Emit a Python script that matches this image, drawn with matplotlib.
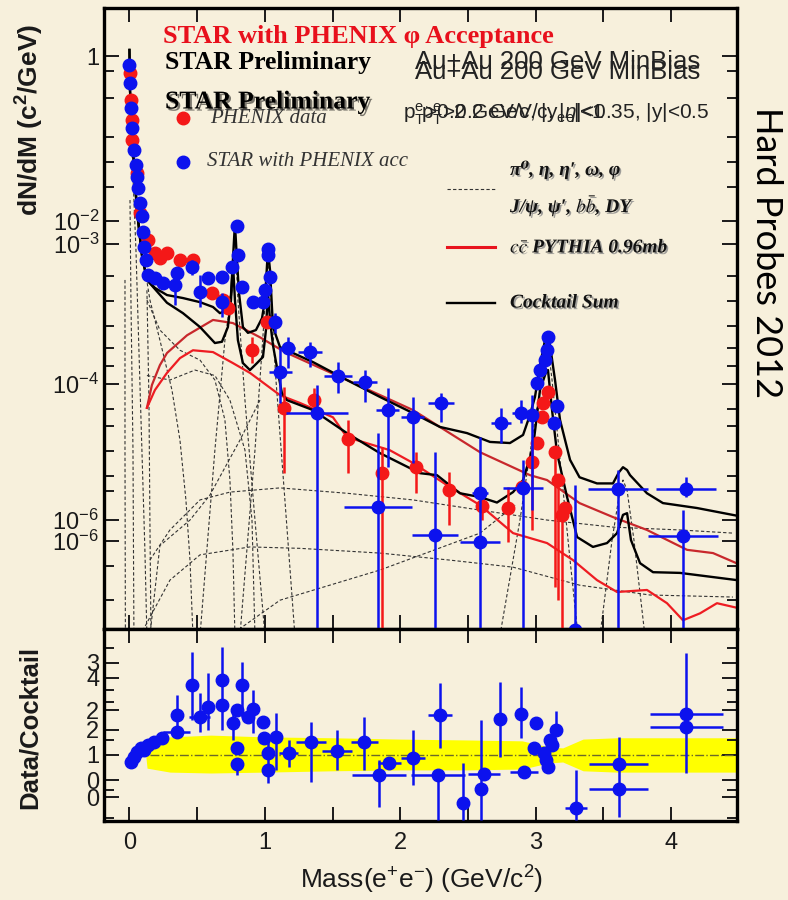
import numpy as np
import matplotlib
matplotlib.use("Agg")
import matplotlib.pyplot as plt
import matplotlib.patheffects as pe
from matplotlib.ticker import FixedLocator, FixedFormatter, NullFormatter

BG = "#f7f0dc"
BLUE = "#0c12ee"
RED = "#f41818"
SERIF = ["Liberation Serif", "DejaVu Serif"]

plt.rcParams["font.family"] = ["Liberation Sans", "DejaVu Sans"]
plt.rcParams["mathtext.fontset"] = "custom"
plt.rcParams["mathtext.rm"] = "Liberation Sans"
plt.rcParams["mathtext.it"] = "Liberation Sans:italic"
plt.rcParams["mathtext.bf"] = "Liberation Sans:bold"

# ---- main panel data: STAR with PHENIX acceptance (blue) ----
blue_mass = [0.0, 0.005, 0.01, 0.018, 0.03, 0.045, 0.055, 0.063, 0.08, 0.09, 0.10, 0.107,
             0.125, 0.137, 0.188, 0.247, 0.351, 0.580, 0.683, 0.757, 0.794, 0.801, 0.831,
             0.912, 0.986, 1.001, 1.023, 1.023, 1.038, 3.010, 3.032, 3.069, 3.084, 3.091,
             3.136, 3.158]
blue_val = [0.78, 0.40, 0.163, 0.079, 0.036, 0.021, 0.0134, 0.0091, 0.0053, 0.0032, 0.0018, 1.07e-3,
            6.6e-4, 3.8e-4, 3.4e-4, 2.9e-4, 4.1e-4, 3.4e-4, 3.56e-4, 5.1e-4, 2.3e-3, 7.9e-4, 2.46e-4,
            1.44e-4, 1.44e-4, 2.2e-4, 1.0e-3, 7.9e-4, 3.56e-4, 7.6e-6, 1.22e-5, 1.75e-5, 2.5e-5, 4.0e-5,
            1.78e-6, 3.3e-6]

blue_err_mass = [0.336, 0.462, 0.521, 0.683, 1.075, 1.171, 1.333, 1.112, 1.385, 1.540, 1.739, 1.906,
                 2.094, 2.301, 1.835, 2.256, 2.589, 2.589, 2.744, 2.892, 2.973, 2.907, 3.608, 4.110,
                 4.088, 3.290]
blue_err_val = [2.65e-4, 5.1e-4, 2.07e-4, 1.44e-4, 7.0e-5, 2.7e-5, 2.35e-5, 1.14e-5, 2.6e-6, 1.0e-5, 7.9e-6, 2.86e-6,
                2.2e-6, 3.7e-6, 8.6e-8, 3.1e-8, 1.4e-7, 2.4e-8, 1.78e-6, 2.57e-6, 2.4e-6, 1.7e-7, 1.63e-7, 1.63e-7,
                3.0e-8, 1.0e-9]
blue_err_lo = [1.29e-4, 3.8e-4, 1.2e-4, 8.3e-5, 4.7e-5, 1.31e-5, 1.36e-5, 3.7e-6, 5e-10, 5.3e-6, 3.8e-6, 3.6e-7,
               4.2e-7, 1.85e-6, 5e-10, 5e-10, 5e-10, 2.4e-8, 8.65e-7, 1.8e-6, 7.6e-8, 5e-10, 5e-10, 1.22e-7,
               5e-10, 1.0e-9]
blue_err_hi = [4.1e-4, 6.6e-4, 3.8e-4, 2.0e-4, 9.6e-5, 4.0e-5, 3.4e-5, 2.8e-5, 7.1e-6, 1.63e-5, 1.22e-5, 6.4e-6,
               4.6e-6, 5.3e-6, 1.24e-6, 6.2e-7, 1.07e-6, 2.4e-8, 3.1e-6, 4.1e-6, 4.9e-6, 4.7e-7, 3.25e-7, 2.5e-7,
               7.6e-8, 1.88e-7]
blue_err_xerr = [0.04, 0, 0, 0, 0, 0.05, 0.09, 0.085, 0.23, 0.10, 0.09, 0.085,
                 0.085, 0.095, 0.25, 0.17, 0.06, 0.15, 0.075, 0.065, 0, 0.15, 0.22, 0.22,
                 0.26, 0]

# ---- main panel data: PHENIX (red) ----
red_mass = [0.004, 0.008, 0.018, 0.022, 0.055, 0.078, 0.137, 0.188, 0.225, 0.277, 0.373, 0.469,
            0.609, 0.691, 0.727, 1.016, 2.899, 3.010, 3.047, 3.055, 3.091, 3.217]
red_val = [0.58, 0.218, 0.106, 0.051, 0.0154, 3.6e-3, 1.36e-3, 8.5e-4, 7.0e-4, 8.5e-4, 6.6e-4, 6.6e-4,
           2.0e-4, 1.55e-4, 1.16e-4, 7.0e-5, 1.75e-7, 8.65e-7, 2.2e-6, 3.7e-6, 5.5e-6, 8.2e-8]

red_err_mass = [0.905, 1.141, 1.363, 1.613, 1.865, 2.116, 2.360, 2.604, 2.795, 2.973, 3.143, 3.165, 3.195]
red_err_val = [2.5e-5, 3.1e-6, 4.1e-6, 1.0e-6, 2.9e-7, 3.6e-7, 1.57e-7, 8.8e-8, 8.2e-8, 4.3e-7, 6.2e-7, 2.26e-7, 6.4e-8]
red_err_lo = [1.57e-5, 2.9e-7, 2.86e-6, 2.9e-7, 5e-10, 1.4e-7, 4.4e-8, 5.3e-8, 2.4e-8, 3.7e-8, 4.7e-9, 2.9e-9, 5e-10]
red_err_hi = [4.0e-5, 6.6e-6, 6.4e-6, 2.0e-6, 7.5e-7, 6.2e-7, 3.0e-7, 1.3e-7, 1.75e-7, 7.5e-7, 6.2e-7, 2.26e-7, 6.4e-8]

# ---- cocktail sums (two overlaid versions) ----
sum_hi_mass = [0.0, 0.004, 0.026, 0.055, 0.092, 0.129, 0.188, 0.277, 0.395, 0.521, 0.617, 0.668, 0.720,
               0.750, 0.764, 0.779, 0.794, 0.809, 0.838, 0.875, 0.934, 0.979, 1.001, 1.016, 1.023, 1.038,
               1.060, 1.112, 1.355, 1.606, 1.850, 2.094, 2.293, 2.493, 2.663, 2.810, 2.907, 2.958, 2.995,
               3.032, 3.069, 3.084, 3.106, 3.143, 3.180, 3.254, 3.324, 3.453, 3.571, 3.615, 3.645, 3.675,
               3.697, 3.822, 3.940, 4.191, 4.487]
sum_hi_val = [1.34, 0.314, 0.036, 0.0040, 7.9e-4, 3.2e-4, 2.4e-4, 1.85e-4, 1.66e-4, 1.43e-4, 1.2e-4, 9.6e-5, 1.07e-4,
              1.85e-4, 6.6e-4, 2.5e-3, 6.6e-4, 2.0e-4, 5.8e-5, 4.7e-5, 5.2e-5, 8.0e-5, 1.55e-4, 5.5e-4, 9.5e-4, 4.6e-4,
              5.8e-5, 2.8e-5, 1.63e-5, 8.5e-6, 4.6e-6, 2.56e-6, 1.55e-6, 1.24e-6, 9.0e-7, 8.65e-7, 1.16e-6, 2.4e-6, 4.6e-6,
              1.46e-5, 3.6e-5, 4.0e-5, 3.0e-5, 8.5e-6, 2.0e-6, 4.7e-7, 2.5e-7, 2.0e-7, 2.0e-7, 3.0e-7, 3.6e-7, 3.25e-7,
              2.7e-7, 1.4e-7, 9.8e-8, 8.2e-8, 6.2e-8]

sum_lo_mass = [0.0, 0.004, 0.026, 0.055, 0.092, 0.129, 0.277, 0.395, 0.521, 0.631, 0.683, 0.727, 0.750,
               0.764, 0.779, 0.801, 0.838, 0.890, 0.942, 0.986, 1.008, 1.023, 1.038, 1.060, 1.089, 1.126,
               1.163, 1.355, 1.606, 1.850, 2.146, 2.271, 2.441, 2.589, 2.714, 2.833, 2.907, 2.981, 3.032,
               3.077, 3.091, 3.121, 3.158, 3.232, 3.306, 3.423, 3.527, 3.601, 3.645, 3.675, 3.704, 3.771,
               3.867, 4.066, 4.310, 4.487]
sum_lo_val = [1.34, 0.314, 0.036, 0.0040, 7.9e-4, 3.2e-4, 1.4e-4, 9.6e-5, 5.8e-5, 3.25e-5, 3.4e-5, 5.8e-5, 1.55e-4,
              6.1e-4, 1.55e-4, 3.6e-5, 1.57e-5, 1.22e-5, 1.57e-5, 1.96e-5, 5.2e-5, 2.07e-4, 7.5e-5, 3.0e-5, 1.36e-5, 5.3e-6,
              4.1e-6, 2.86e-6, 1.24e-6, 6.0e-7, 2.9e-7, 2.7e-7, 1.4e-7, 1.22e-7, 1.0e-7, 1.46e-7, 2.26e-7, 7.5e-7, 5.9e-6,
              1.14e-5, 1.22e-5, 2.86e-6, 6.0e-7, 1.22e-7, 2.86e-8, 2.0e-8, 2.3e-8, 3.3e-8, 6.4e-8, 6.8e-8, 2.56e-8, 1.11e-8,
              8.0e-9, 7.8e-9, 6.7e-9, 6.0e-9]

# ---- charm (PYTHIA), two overlaid versions ----
cc_hi_mass = [0.129, 0.166, 0.225, 0.277, 0.425, 0.617, 0.764, 0.964, 1.148, 1.606, 2.094, 2.589, 2.958,
              3.084, 3.324, 3.571, 3.822, 4.118, 4.310, 4.487]
cc_hi_val = [3.1e-6, 7.1e-6, 1.46e-5, 2.26e-5, 4.3e-5, 7.5e-5, 6.7e-5, 4.0e-5, 2.34e-5, 8.5e-6, 2.86e-6, 6.2e-7, 2.7e-7,
             2.26e-7, 9.8e-8, 5.9e-8, 3.7e-8, 1.8e-8, 1.6e-8, 1.1e-8]
cc_lo_mass = [0.129, 0.188, 0.277, 0.373, 0.469, 0.617, 0.764, 0.890, 1.112, 1.259, 1.503, 1.606, 1.921, 2.094,
              2.345, 2.589, 2.833, 2.958, 3.084, 3.276, 3.453, 3.601, 3.822, 3.970, 4.088, 4.214, 4.339, 4.487]
cc_lo_val = [3.1e-6, 5.9e-6, 1.1e-5, 1.88e-5, 2.5e-5, 2.34e-5, 1.57e-5, 1.1e-5, 4.9e-6, 3.7e-6, 2.2e-6, 1.07e-6, 6.7e-7,
             4.2e-7, 1.88e-7, 9.1e-8, 3.3e-8, 2.76e-8, 2.3e-8, 1.24e-8, 6.0e-9, 3.9e-9, 4.2e-9, 2.6e-9, 1.4e-9, 1.8e-9,
             2.6e-9, 2.2e-9]

# ---- cocktail components (dashed) ----
pi0_mass = [0.0, 0.018, 0.048, 0.070, 0.092, 0.114, 0.129]
pi0_val = [0.93, 0.036, 9.5e-4, 2.5e-5, 6.7e-7, 1.8e-8, 8e-10]
eta_mass = [0.0, 0.041, 0.092, 0.151, 0.225, 0.314, 0.373, 0.417, 0.447, 0.469]
eta_val = [0.26, 0.012, 9.5e-4, 1.55e-4, 3.6e-5, 5.9e-6, 9.6e-7, 1.1e-7, 1.24e-8, 8e-10]
edge_a_mass = [-0.033, -0.033, -0.030]
edge_a_val = [3.2e-4, 6.7e-7, 8e-10]
edge_b_mass = [0.004, 0.011, 0.026, 0.033]
edge_b_val = [5.8e-3, 1.55e-4, 6.7e-7, 8e-10]
edge_c_mass = [0.129, 0.144, 0.151, 0.159]
edge_c_val = [2.2e-4, 4.1e-6, 5.3e-8, 8e-10]
omega_dal_mass = [0.129, 0.225, 0.373, 0.521, 0.631, 0.705, 0.742, 0.764, 0.779]
omega_dal_val = [1.55e-4, 5.2e-5, 2.5e-5, 1.75e-5, 8.5e-6, 2.0e-6, 2.26e-7, 1.8e-8, 8e-10]
etap_mass = [0.129, 0.299, 0.484, 0.631, 0.742, 0.853, 0.905, 0.927]
etap_val = [1.0e-5, 8.5e-6, 1.22e-5, 1.0e-5, 4.1e-6, 6.7e-7, 5.3e-8, 8e-10]
omega_mass = [0.521, 0.631, 0.705, 0.757, 0.779, 0.801, 0.853, 0.927, 1.001]
omega_val = [8e-10, 6.7e-7, 3.6e-5, 2.2e-4, 1.8e-3, 1.55e-4, 4.1e-6, 5.3e-8, 8e-10]
phi_mass = [0.816, 0.927, 0.979, 1.008, 1.023, 1.045, 1.082, 1.148, 1.222]
phi_val = [8e-10, 6.7e-7, 2.5e-5, 2.2e-4, 6.1e-4, 1.55e-4, 8.5e-6, 1.1e-7, 8e-10]
bb_mass = [0.151, 0.299, 0.521, 0.742, 1.112, 1.606, 2.094, 2.589, 3.084, 3.571, 4.066, 4.457]
bb_val = [1.24e-8, 3.7e-8, 1.1e-7, 1.46e-7, 1.7e-7, 1.4e-7, 1.1e-7, 7.6e-8, 5.3e-8, 4.1e-8, 3.7e-8, 3.3e-8]
dy_mass = [0.078, 0.299, 0.521, 0.890, 1.259, 1.850, 2.367, 2.833, 3.324, 3.844, 4.457]
dy_val = [8e-10, 6.0e-9, 1.5e-8, 2.0e-8, 1.9e-8, 1.6e-8, 1.24e-8, 9.6e-9, 5.0e-9, 3.5e-9, 3.25e-9]
jpsi_mass = [2.736, 2.884, 2.995, 3.069, 3.091, 3.121, 3.180, 3.254, 3.313]
jpsi_val = [8e-10, 5.3e-8, 2.0e-6, 1.75e-5, 3.0e-5, 8.5e-6, 4.7e-7, 1.24e-8, 8e-10]
psi2_mass = [3.475, 3.564, 3.623, 3.645, 3.675, 3.726, 3.807]
psi2_val = [8e-10, 2.56e-8, 1.57e-7, 2.26e-7, 1.57e-7, 2.56e-8, 8e-10]
tail_mass = [0.742, 1.112, 1.850, 2.589, 2.848]
tail_val = [8e-10, 2.9e-9, 8.65e-9, 3.3e-8, 9.1e-8]
rise_mass = [0.151, 0.225, 0.447, 0.594, 0.816, 0.964]
rise_val = [8e-10, 2.1e-8, 5.3e-8, 1.31e-7, 9.6e-7, 4.1e-6]

components = [(pi0_mass, pi0_val), (eta_mass, eta_val), (edge_a_mass, edge_a_val),
              (edge_b_mass, edge_b_val), (edge_c_mass, edge_c_val), (omega_dal_mass, omega_dal_val),
              (etap_mass, etap_val), (omega_mass, omega_val), (phi_mass, phi_val), (bb_mass, bb_val),
              (dy_mass, dy_val), (jpsi_mass, jpsi_val), (psi2_mass, psi2_val), (tail_mass, tail_val),
              (rise_mass, rise_val)]

# ---- ratio panel ----
ratio_mass = [0.011, 0.033, 0.055, 0.085, 0.107, 0.137, 0.181, 0.24, 0.349, 0.349, 0.462, 0.518, 0.579,
              0.686, 0.686, 0.763, 0.793, 0.830, 0.793, 0.793, 0.879, 0.916, 0.984, 0.992, 1.023, 1.023,
              1.084, 1.177, 1.339, 1.535, 1.734, 1.845, 1.918, 2.096, 2.28, 2.295, 2.464, 2.595, 2.617,
              2.739, 2.893, 2.914, 3.006, 2.985, 3.061, 3.076, 3.091, 3.12, 3.15, 3.106, 3.30, 3.613,
              3.613, 4.112, 4.112]
ratio_val = [0.84, 0.95, 1.07, 1.16, 1.11, 1.23, 1.30, 1.39, 1.91, 1.52, 2.59, 1.86, 2.09,
             2.70, 2.14, 1.73, 2.02, 2.59, 1.16, 0.80, 1.86, 2.05, 1.75, 1.39, 1.05, 0.66,
             1.41, 1.05, 1.30, 1.09, 1.30, 0.55, 0.82, 0.93, 0.55, 1.91, -0.09, 0.23, 0.57,
             1.82, 1.93, 0.61, 1.73, 1.16, 1.05, 0.89, 0.73, 1.23, 1.57, 1.34, -0.20, 0.80,
             0.23, 1.93, 1.64]
ratio_lo = [0.84, 0.95, 1.07, 1.16, 1.11, 1.23, 1.30, 1.39, 1.50, 1.52, 1.80, 1.52, 1.57,
            1.57, 2.14, 1.34, 2.02, 1.86, 1.16, 0.55, 1.86, 1.50, 1.75, 1.39, 1.05, 0.36,
            0.66, 0.73, 0.39, 0.66, 0.66, -0.18, 0.82, 0.32, -0.48, 1.16, -0.48, -0.48, 0.57,
            0.95, 1.39, 0.61, 1.73, 1.16, 1.05, 0.89, 0.73, 1.23, 1.57, 1.34, -0.48, -0.41,
            0.23, 0.59, 1.64]
ratio_hi = [0.84, 0.95, 1.07, 1.16, 1.11, 1.23, 1.30, 1.39, 2.36, 1.52, 3.34, 2.41, 2.86,
            3.45, 2.14, 2.02, 2.02, 3.11, 1.16, 0.80, 1.86, 2.48, 1.75, 1.39, 1.05, 1.41,
            1.95, 1.34, 1.75, 1.57, 1.86, 0.89, 0.82, 1.57, 0.55, 2.64, 0.82, 1.80, 0.57,
            2.66, 2.55, 0.61, 1.73, 1.16, 1.05, 0.89, 0.73, 1.23, 2.00, 1.34, 0.66, 1.41,
            0.23, 3.32, 1.64]
ratio_xerr = [0, 0, 0, 0, 0, 0, 0, 0, 0, 0.10, 0, 0.08, 0,
              0, 0, 0, 0, 0, 0, 0, 0, 0, 0, 0, 0, 0,
              0, 0.07, 0.11, 0.11, 0.10, 0.20, 0.085, 0.09, 0.20, 0.09, 0, 0, 0.12,
              0, 0, 0.10, 0, 0, 0, 0, 0, 0, 0, 0, 0.08, 0.22,
              0.22, 0.27, 0.27]

band_mass = [0.12, 0.13, 0.3, 0.6, 1.0, 1.5, 2.0, 2.5, 2.9, 3.1, 3.2, 3.35, 3.6, 4.0, 4.49]
band_lo = [1.0, 0.70, 0.61, 0.59, 0.61, 0.64, 0.66, 0.66, 0.68, 0.82, 0.84, 0.64, 0.61, 0.61, 0.61]
band_hi = [1.0, 1.30, 1.41, 1.45, 1.41, 1.39, 1.36, 1.34, 1.32, 1.18, 1.16, 1.36, 1.39, 1.39, 1.39]

# tick positions / labels as printed on the (overlaid) original axes
main_ticks = [1.075, 2.71e-3, 1.18e-3, 7.35e-6, 5.30e-8, 2.48e-8]
main_labels = ["1", r"10$^{-2}$", r"10$^{-3}$", r"10$^{-4}$", r"10$^{-6}$", r"10$^{-6}$"]
main_minor = [0.624, 0.234, 0.057, 0.023, 9.3e-3, 3.69e-4, 1.49e-4, 6.02e-5, 2.71e-5, 1.41e-5,
              2.97e-6, 1.6e-6, 6.47e-7, 2.61e-7, 1.52e-7, 1.0e-8, 2.92e-9]
ratio_ticks = [3.09, 2.75, 2.02, 1.57, 1.0, 0.43, 0.045]
ratio_labels = ["3", "4", "2", "2", "1", "0", "0"]
ratio_minor = [3.43, 2.48, 2.20, 1.34, 0.20, -0.43]
mass_ticks = [0, 1, 2, 3, 4]
mass_minor = [0.5, 1.5, 2.5, 3.5]


def fx(px):
    return px / 788


def fy(py):
    return 1 - py / 900


fig = plt.figure(figsize=(7.88, 9.0), dpi=100, facecolor=BG)
ax = fig.add_axes([fx(104), fy(629), 633 / 788, 621 / 900])
rx = fig.add_axes([fx(104), fy(821), 633 / 788, 192 / 900])

for a in (ax, rx):
    a.set_facecolor(BG)
    for s in a.spines.values():
        s.set_linewidth(2.4)
    a.set_xlim(-0.188, 4.487)
    a.xaxis.set_major_locator(FixedLocator(mass_ticks))
    a.xaxis.set_minor_locator(FixedLocator(mass_minor))
    a.tick_params(which="both", direction="in", top=True, right=True, width=1.4,
                  labelsize=17, colors="#1a1a1a")
    a.tick_params(which="major", length=11)
    a.tick_params(which="minor", length=7)
    a.tick_params(axis="x", which="both", length=10)

# main panel
ax.set_yscale("log")
ax.set_ylim(1.02e-9, 6.13)
ax.yaxis.set_major_locator(FixedLocator(main_ticks))
ax.yaxis.set_major_formatter(FixedFormatter(main_labels))
ax.yaxis.set_minor_locator(FixedLocator(main_minor))
ax.yaxis.set_minor_formatter(NullFormatter())
ax.tick_params(axis="x", labelbottom=False)

for m, v in components:
    ax.plot(m, v, ls=(0, (3, 2)), color="#333333", lw=0.8, zorder=1)

ax.plot(cc_hi_mass, cc_hi_val, color="#c8282c", lw=1.6, zorder=2)
ax.plot(cc_lo_mass, cc_lo_val, color="#ee1c22", lw=1.6, zorder=2)
ax.plot(sum_hi_mass, sum_hi_val, color="black", lw=1.7, zorder=2)
ax.plot(sum_lo_mass, sum_lo_val, color="black", lw=1.7, zorder=2)

rv = np.array(red_err_val)
ax.errorbar(red_err_mass, rv, yerr=[rv - np.array(red_err_lo), np.array(red_err_hi) - rv],
            fmt="o", color=RED, ms=9, elinewidth=1.8, capsize=0, zorder=3)
ax.plot(red_mass, red_val, "o", color=RED, ms=9, zorder=3)

bv = np.array(blue_err_val)
ax.errorbar(blue_err_mass, bv, yerr=[bv - np.array(blue_err_lo), np.array(blue_err_hi) - bv],
            xerr=blue_err_xerr, fmt="o", color=BLUE, ms=9, elinewidth=1.8, capsize=0, zorder=4)
ax.plot(blue_mass, blue_val, "o", color=BLUE, ms=9, zorder=4)

# ratio panel
rx.set_ylim(-0.5, 3.86)
rx.yaxis.set_major_locator(FixedLocator(ratio_ticks))
rx.yaxis.set_major_formatter(FixedFormatter(ratio_labels))
rx.yaxis.set_minor_locator(FixedLocator(ratio_minor))
rx.fill_between(band_mass, band_lo, band_hi, color="#ffff00", lw=0, zorder=1)
rx.plot([0.15, 4.487], [1, 1], ls="-.", color="#6c6a28", lw=1.0, zorder=2)
r_v = np.array(ratio_val)
rx.errorbar(ratio_mass, r_v, yerr=[r_v - np.array(ratio_lo), np.array(ratio_hi) - r_v],
            xerr=ratio_xerr, fmt="o", color=BLUE, ms=9, elinewidth=1.8, capsize=0, zorder=3)
rx.tick_params(axis="x", pad=8)

# axis titles
fig.text(fx(30), fy(120), r"dN/dM (c$^\mathbf{2}$/GeV)", rotation=90, fontsize=19,
         fontweight="bold", ha="center", va="center", color="#1a1a1a")
fig.text(fx(30), fy(727), "Data/Cocktail", rotation=90, fontsize=18.5,
         fontweight="bold", ha="center", va="center", color="#1a1a1a")
fig.text(fx(422), fy(880), r"Mass(e$^{+}$e$^{-}$) (GeV/c$^{2}$)", fontsize=19,
         ha="center", va="center", color="#1a1a1a")
fig.text(fx(766), fy(253), "Hard Probes 2012", rotation=-90, fontsize=26, family="Lato",
         ha="center", va="center", color="black")

# overlaid plot annotations
fig.text(fx(163), fy(36), "STAR with PHENIX φ Acceptance", color="#e8101c", fontsize=19,
         fontweight="bold", family=SERIF, va="center")
fig.text(fx(165), fy(63), "STAR Preliminary", color="black", fontsize=18.5,
         fontweight="bold", family=SERIF, va="center")
fig.text(fx(165), fy(102), "STAR Preliminary", color="black", fontsize=18.5,
         fontweight="bold", family=SERIF, va="center",
         path_effects=[pe.withSimplePatchShadow(offset=(1.5, -1.5), alpha=0.5)])
for ypx in (62, 72):
    fig.text(fx(415), fy(ypx), "Au+Au 200 GeV MinBias", color="#222222", fontsize=18.5, va="center")
fig.text(fx(403), fy(114), r"p$_\mathrm{T}^\mathrm{e}$>0.2 GeV/c, |y$_\mathrm{ee}$|<1",
         color="#222222", fontsize=15, va="center")
fig.text(fx(421), fy(114), r"p$_\mathrm{T}^\mathrm{e}$>0.2 GeV/c, |$\eta$|<0.35, |y|<0.5",
         color="#222222", fontsize=15, va="center")

# legend
tf = fig.transFigure
ax.plot([fx(183)], [fy(118)], "o", color=RED, ms=9, transform=tf, clip_on=False)
ax.plot([fx(183)], [fy(162)], "o", color=BLUE, ms=9, transform=tf, clip_on=False)
fig.text(fx(210), fy(118), "PHENIX data", fontsize=15, style="italic", family=SERIF,
         color="#333333", va="center")
fig.text(fx(207), fy(162), "STAR with PHENIX acc", fontsize=15, style="italic", family=SERIF,
         color="#333333", va="center")
ax.plot([fx(447), fx(495)], [fy(189), fy(189)], ls=(0, (3, 2)), color="#333333", lw=0.8,
        transform=tf, clip_on=False)
ax.plot([fx(447), fx(495)], [fy(247), fy(247)], color="#e8141e", lw=2.2, transform=tf, clip_on=False)
ax.plot([fx(447), fx(495)], [fy(303), fy(303)], color="black", lw=1.7, transform=tf, clip_on=False)
shadow = [pe.withSimplePatchShadow(offset=(1.2, -1.2), shadow_rgbFace="#888888", alpha=0.8)]
leg_kw = dict(fontsize=14, fontweight="bold", style="italic", family=SERIF, color="#111111",
              va="center", math_fontfamily="stix", path_effects=shadow)
fig.text(fx(510), fy(170), "π⁰, η, η′, ω, φ", **leg_kw)
fig.text(fx(510), fy(205), r"J/ψ, ψ′, $b\bar{b}$, DY", **leg_kw)
fig.text(fx(510), fy(248), r"$c\bar{c}$ PYTHIA 0.96mb", **leg_kw)
fig.text(fx(510), fy(303), "Cocktail Sum", **leg_kw)

fig.savefig("out.png", dpi=100, facecolor=BG)
